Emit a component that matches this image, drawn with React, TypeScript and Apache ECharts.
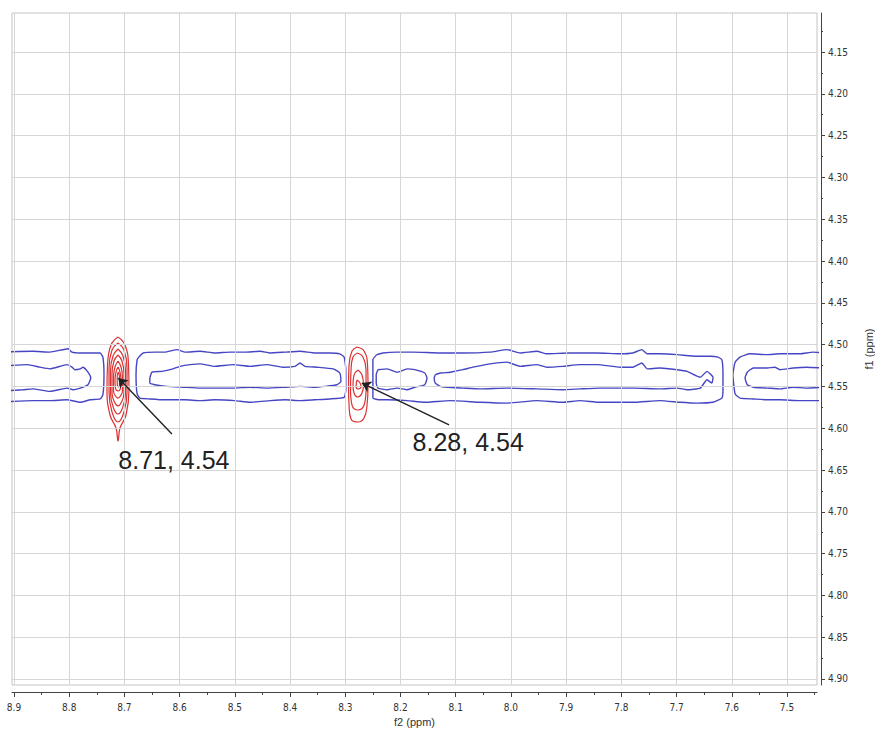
import React, { useEffect, useRef } from "react";
import * as echarts from "echarts";

// ---------- axes (ppm) ----------
const xRange = [7.4457, 8.9036];
const yRange = [4.1033, 4.9072];
const xMajorTicks = [8.9, 8.8, 8.7, 8.6, 8.5, 8.4, 8.3, 8.2, 8.1, 8.0, 7.9, 7.8, 7.7, 7.6, 7.5];
const xMinorTicks = [8.85, 8.75, 8.65, 8.55, 8.45, 8.35, 8.25, 8.15, 8.05, 7.95, 7.85, 7.75, 7.65, 7.55, 7.45];
const yMajorTicks = [4.15, 4.2, 4.25, 4.3, 4.35, 4.4, 4.45, 4.5, 4.55, 4.6, 4.65, 4.7, 4.75, 4.8, 4.85, 4.9];
const yMinorTicks = [4.125, 4.175, 4.225, 4.275, 4.325, 4.375, 4.425, 4.475, 4.525, 4.575, 4.625, 4.675, 4.725, 4.775, 4.825, 4.875];
const xName = "f2 (ppm)";
const yName = "f1 (ppm)";

// ---------- blue (negative-phase) contours, [f2, f1] ----------
const blueA_outer = [[8.93,4.509],[8.866,4.508],[8.835,4.509],[8.802,4.505],[8.795,4.509],[8.780,4.510],[8.762,4.510],[8.744,4.510],[8.739,4.515],[8.737,4.536],[8.739,4.560],[8.744,4.565],[8.762,4.566],[8.780,4.569],[8.804,4.566],[8.835,4.567],[8.866,4.567],[8.93,4.569]];
const blueA_inner = [[8.93,4.526],[8.876,4.524],[8.853,4.527],[8.835,4.529],[8.804,4.524],[8.795,4.527],[8.790,4.530],[8.780,4.529],[8.775,4.527],[8.766,4.533],[8.761,4.540],[8.766,4.548],[8.780,4.552],[8.793,4.554],[8.804,4.552],[8.835,4.556],[8.866,4.553],[8.884,4.554],[8.93,4.556]];
const blueB_outer = [[8.674,4.515],[8.666,4.510],[8.645,4.509],[8.627,4.509],[8.605,4.506],[8.590,4.509],[8.563,4.508],[8.536,4.510],[8.509,4.509],[8.482,4.509],[8.454,4.508],[8.436,4.510],[8.409,4.509],[8.382,4.508],[8.355,4.510],[8.328,4.510],[8.310,4.511],[8.302,4.515],[8.299,4.530],[8.299,4.554],[8.302,4.563],[8.328,4.565],[8.355,4.566],[8.382,4.567],[8.409,4.566],[8.436,4.567],[8.473,4.569],[8.500,4.567],[8.536,4.566],[8.563,4.567],[8.590,4.566],[8.627,4.566],[8.654,4.565],[8.672,4.564],[8.677,4.559],[8.679,4.536],[8.677,4.518],[8.674,4.515]];
const blueB_inner = [[8.654,4.540],[8.650,4.533],[8.632,4.532],[8.612,4.529],[8.599,4.526],[8.581,4.524],[8.563,4.523],[8.536,4.526],[8.503,4.524],[8.473,4.526],[8.442,4.524],[8.413,4.527],[8.391,4.526],[8.382,4.522],[8.373,4.526],[8.351,4.527],[8.322,4.529],[8.310,4.534],[8.308,4.544],[8.315,4.548],[8.337,4.550],[8.355,4.551],[8.382,4.550],[8.409,4.551],[8.442,4.552],[8.473,4.551],[8.503,4.552],[8.536,4.552],[8.563,4.552],[8.594,4.551],[8.623,4.550],[8.645,4.548],[8.654,4.546],[8.654,4.540]];
const blueC_outer = [[8.243,4.512],[8.232,4.510],[8.206,4.509],[8.177,4.509],[8.128,4.510],[8.087,4.510],[8.038,4.509],[8.007,4.506],[7.983,4.510],[7.953,4.508],[7.935,4.511],[7.893,4.510],[7.844,4.510],[7.802,4.511],[7.779,4.510],[7.763,4.506],[7.753,4.511],[7.730,4.511],[7.699,4.512],[7.663,4.514],[7.639,4.514],[7.625,4.515],[7.618,4.518],[7.616,4.536],[7.616,4.554],[7.618,4.564],[7.634,4.569],[7.663,4.570],[7.694,4.569],[7.730,4.567],[7.779,4.569],[7.839,4.569],[7.875,4.567],[7.906,4.569],[7.953,4.567],[8.007,4.570],[8.056,4.569],[8.110,4.567],[8.156,4.569],[8.188,4.567],[8.224,4.566],[8.237,4.566],[8.250,4.564],[8.250,4.542],[8.250,4.518],[8.243,4.512]];
const blueC_inner1 = [[8.241,4.530],[8.224,4.529],[8.206,4.533],[8.188,4.529],[8.174,4.530],[8.156,4.534],[8.152,4.540],[8.156,4.548],[8.174,4.551],[8.188,4.554],[8.206,4.552],[8.224,4.554],[8.241,4.552],[8.244,4.546],[8.244,4.536],[8.241,4.530]];
const blueC_inner2 = [[8.137,4.536],[8.128,4.534],[8.110,4.533],[8.087,4.530],[8.069,4.527],[8.038,4.523],[8.007,4.521],[7.983,4.526],[7.953,4.524],[7.935,4.527],[7.906,4.526],[7.875,4.524],[7.844,4.524],[7.802,4.527],[7.779,4.527],[7.763,4.522],[7.753,4.529],[7.730,4.528],[7.699,4.530],[7.681,4.532],[7.657,4.539],[7.645,4.532],[7.634,4.539],[7.636,4.546],[7.645,4.542],[7.657,4.552],[7.681,4.554],[7.699,4.552],[7.730,4.553],[7.779,4.552],[7.839,4.552],[7.875,4.553],[7.906,4.554],[7.953,4.553],[8.007,4.552],[8.056,4.553],[8.087,4.552],[8.116,4.551],[8.128,4.550],[8.137,4.546],[8.139,4.540],[8.137,4.536]];
const blueD_outer = [[7.431,4.510],[7.453,4.509],[7.476,4.511],[7.513,4.511],[7.536,4.512],[7.567,4.511],[7.585,4.515],[7.594,4.521],[7.598,4.536],[7.594,4.559],[7.585,4.564],[7.561,4.565],[7.536,4.566],[7.513,4.566],[7.476,4.567],[7.453,4.567],[7.431,4.567]];
const blueD_inner = [[7.431,4.528],[7.464,4.527],[7.489,4.528],[7.513,4.530],[7.522,4.527],[7.536,4.528],[7.561,4.528],[7.572,4.533],[7.576,4.540],[7.572,4.548],[7.561,4.551],[7.536,4.552],[7.513,4.553],[7.489,4.551],[7.464,4.552],[7.431,4.551]];

// ---------- red (positive-phase) contours, [f2, f1] ----------
const redL1 = [[8.7116,4.4909],[8.6989,4.5005],[8.6926,4.5244],[8.6917,4.5543],[8.6971,4.5842],[8.7080,4.5998],[8.7116,4.6153],[8.7152,4.5998],[8.7261,4.5842],[8.7316,4.5543],[8.7306,4.5244],[8.7243,4.5005],[8.7116,4.4909]];
const redL2 = [[8.7116,4.4981],[8.7008,4.5065],[8.6953,4.5280],[8.6953,4.5567],[8.7008,4.5806],[8.7116,4.5926],[8.7225,4.5806],[8.7279,4.5567],[8.7279,4.5280],[8.7225,4.5065],[8.7116,4.4981]];
const redL3 = [[8.7116,4.5053],[8.7026,4.5136],[8.6980,4.5316],[8.6980,4.5579],[8.7035,4.5758],[8.7116,4.5830],[8.7198,4.5758],[8.7252,4.5579],[8.7252,4.5316],[8.7207,4.5136],[8.7116,4.5053]];
const redL4 = [[8.7116,4.5124],[8.7044,4.5196],[8.7008,4.5352],[8.7008,4.5579],[8.7053,4.5687],[8.7116,4.5734],[8.7180,4.5687],[8.7225,4.5579],[8.7225,4.5352],[8.7189,4.5196],[8.7116,4.5124]];
const redL5 = [[8.7116,4.5196],[8.7062,4.5268],[8.7035,4.5388],[8.7035,4.5555],[8.7071,4.5615],[8.7116,4.5639],[8.7162,4.5615],[8.7198,4.5555],[8.7198,4.5388],[8.7171,4.5268],[8.7116,4.5196]];
const redL6 = [[8.7116,4.5268],[8.7080,4.5328],[8.7062,4.5423],[8.7071,4.5519],[8.7116,4.5555],[8.7162,4.5519],[8.7171,4.5423],[8.7152,4.5328],[8.7116,4.5268]];
const redL7 = [[8.7111,4.5328],[8.7089,4.5388],[8.7089,4.5471],[8.7111,4.5507],[8.7129,4.5471],[8.7131,4.5388],[8.7111,4.5328]];
const redR1 = [[8.2787,4.5029],[8.2660,4.5077],[8.2597,4.5244],[8.2588,4.5483],[8.2606,4.5723],[8.2660,4.5878],[8.2769,4.5926],[8.2896,4.5890],[8.2932,4.5723],[8.2941,4.5483],[8.2932,4.5244],[8.2878,4.5077],[8.2787,4.5029]];
const redR2 = [[8.2778,4.5101],[8.2679,4.5148],[8.2624,4.5304],[8.2624,4.5543],[8.2660,4.5723],[8.2769,4.5782],[8.2878,4.5723],[8.2905,4.5543],[8.2896,4.5304],[8.2860,4.5148],[8.2778,4.5101]];
const redR3 = [[8.2769,4.5304],[8.2697,4.5364],[8.2670,4.5483],[8.2697,4.5579],[8.2769,4.5627],[8.2842,4.5579],[8.2860,4.5483],[8.2842,4.5364],[8.2769,4.5304]];
const redR4 = [[8.2787,4.5423],[8.2733,4.5459],[8.2715,4.5507],[8.2769,4.5531],[8.2805,4.5495],[8.2787,4.5423]];

// ---------- peak annotations ----------
const peakLabels = ["8.71, 4.54", "8.28, 4.54"];
const arrowTips = [[8.711, 4.540], [8.270, 4.546]];
const arrowTails = [[8.614, 4.607], [8.112, 4.596]];
const labelAnchors = [[8.712, 4.638], [8.179, 4.617]];

const blueContours = [blueA_outer, blueA_inner, blueB_outer, blueB_inner, blueC_outer, blueC_inner1, blueC_inner2, blueD_outer, blueD_inner];
const redContours = [redL1, redL2, redL3, redL4, redL5, redL6, redL7, redR1, redR2, redR3, redR4];

const BLUE = "#4646c4";
const RED = "#dc3232";
const GRID = "#d6d6d6";
const AXIS = "#444444";
const TICK_FONT = "DejaVu Sans Condensed, DejaVu Sans, sans-serif";

export default function App() {
  const ref = useRef<HTMLDivElement>(null);
  useEffect(() => {
    if (!ref.current) return;
    const chart = echarts.init(ref.current, null, { renderer: "svg" });

    const contourSeries: any[] = [];
    blueContours.forEach((d, i) =>
      contourSeries.push({
        type: "line", name: "blue" + i, data: d, showSymbol: false, symbol: "none",
        smooth: 0.15, silent: true, z: 3,
        lineStyle: { color: BLUE, width: 1.4 },
      })
    );
    redContours.forEach((d, i) =>
      contourSeries.push({
        type: "line", name: "red" + i, data: d, showSymbol: false, symbol: "none",
        smooth: 0.45, silent: true, z: 4,
        lineStyle: { color: RED, width: 1.2 },
      })
    );

    const option: any = {
      animation: false,
      backgroundColor: "#ffffff",
      grid: {
        left: 12, right: 58, top: 13, bottom: 46, show: true,
        outerBoundsMode: "none", containLabel: false,
        borderColor: "#c4c4c4", borderWidth: 1, backgroundColor: "#ffffff",
      },
      xAxis: [
        {
          type: "value", min: xRange[0], max: xRange[1], inverse: true, position: "bottom", offset: 7,
          name: xName, nameLocation: "middle", nameGap: 18,
          nameTextStyle: { fontFamily: "Liberation Sans, Arial, sans-serif", fontSize: 11, color: "#333" },
          axisLine: { show: true, onZero: false, lineStyle: { color: AXIS, width: 1 } },
          axisTick: { show: true, customValues: xMajorTicks, length: 5, lineStyle: { color: AXIS } },
          axisLabel: { show: true, customValues: xMajorTicks, margin: 10, fontFamily: TICK_FONT, fontSize: 10, color: "#333", formatter: (v: number) => v.toFixed(1) },
          splitLine: { show: false },
        },
        {
          type: "value", min: xRange[0], max: xRange[1], inverse: true, position: "bottom", offset: 7,
          axisLine: { show: false },
          axisTick: { show: true, customValues: xMinorTicks, length: 3, lineStyle: { color: AXIS } },
          axisLabel: { show: false },
          splitLine: { show: false },
        },
      ],
      yAxis: [
        {
          type: "value", min: yRange[0], max: yRange[1], inverse: true, position: "right", offset: 4,
          name: yName, nameLocation: "middle", nameGap: 42, nameRotate: 90,
          nameTextStyle: { fontFamily: "Liberation Sans, Arial, sans-serif", fontSize: 11, color: "#333" },
          axisLine: { show: true, onZero: false, lineStyle: { color: AXIS, width: 1 } },
          axisTick: { show: true, customValues: yMajorTicks, length: 4, lineStyle: { color: AXIS } },
          axisLabel: { show: true, customValues: yMajorTicks, margin: 7, fontFamily: TICK_FONT, fontSize: 10, color: "#333", formatter: (v: number) => v.toFixed(2) },
          splitLine: { show: false },
        },
        {
          type: "value", min: yRange[0], max: yRange[1], inverse: true, position: "right", offset: 4,
          axisLine: { show: false },
          axisTick: { show: true, customValues: yMinorTicks, length: 2, lineStyle: { color: AXIS } },
          axisLabel: { show: false },
          splitLine: { show: false },
        },
      ],
      series: [
        {
          type: "line", name: "gridlines", data: [], silent: true, z: 1,
          markLine: {
            silent: true, symbol: ["none", "none"], label: { show: false },
            lineStyle: { color: GRID, width: 1, type: "solid" },
            emphasis: { disabled: true },
            data: [
              ...xMajorTicks.map((v) => ({ xAxis: v })),
              ...yMajorTicks.map((v) => ({ yAxis: v })),
            ],
          },
        },
        ...contourSeries,
        {
          type: "line", name: "annotations", data: [], silent: true, z: 6,
          markLine: {
            silent: true, symbol: ["none", "arrow"], symbolSize: 9, label: { show: false },
            lineStyle: { color: "#222222", width: 1.4, type: "solid" },
            emphasis: { disabled: true },
            data: arrowTails.map((t, i) => [{ coord: t }, { coord: arrowTips[i] }]),
          },
          markPoint: {
            silent: true, symbol: "circle", symbolSize: 1,
            itemStyle: { color: "rgba(0,0,0,0)" },
            label: {
              show: true, position: "right", distance: 0,
              fontFamily: "Liberation Sans, Arial, sans-serif", fontSize: 25, color: "#222222",
              formatter: (p: any) => p.name,
            },
            data: labelAnchors.map((c, i) => ({ coord: c, name: peakLabels[i] })),
          },
        },
      ],
    };

    chart.setOption(option);
    return () => chart.dispose();
  }, []);

  return (
    <div
      ref={ref}
      style={{ position: "fixed", left: 0, top: 0, width: 875, height: 731, background: "#ffffff" }}
    />
  );
}
